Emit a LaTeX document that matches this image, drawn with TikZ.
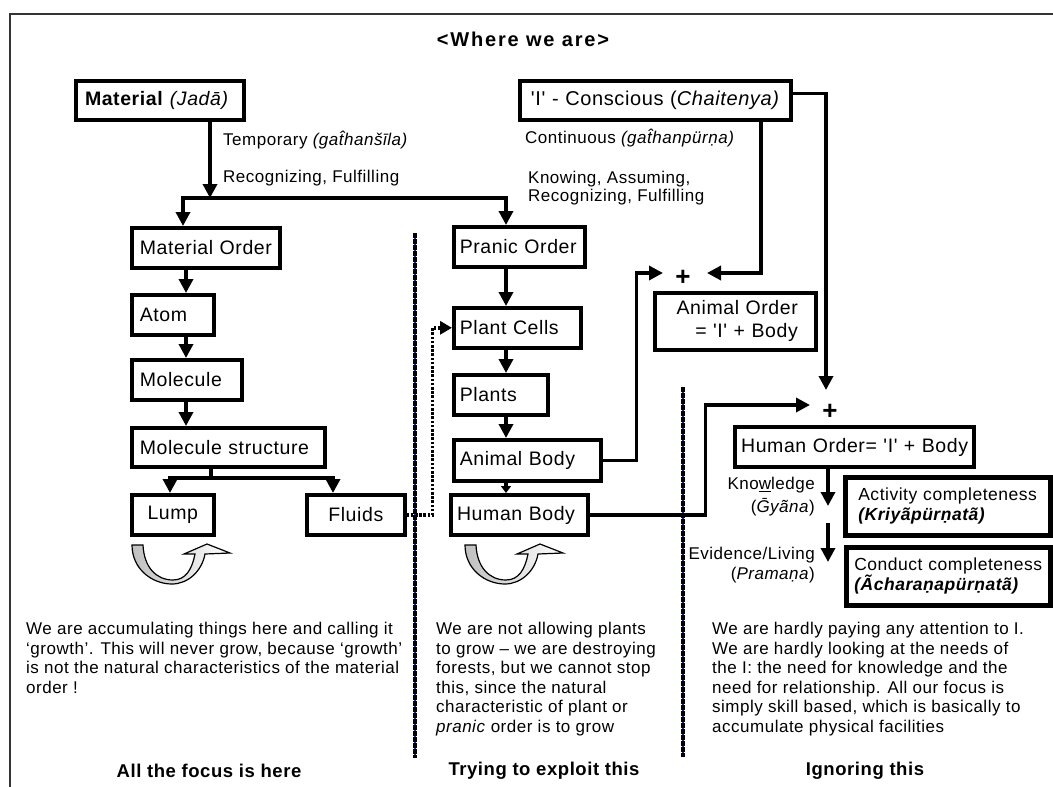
\documentclass[tikz,border=0pt]{standalone}
\usepackage{fontspec}
\setmainfont{Liberation Sans}[Ligatures=TeXOff,LetterSpace=3]
\newfontfamily\titlefont{Liberation Sans}[Ligatures=TeXOff,LetterSpace=9]
\usetikzlibrary{arrows.meta}
\newcommand\fs[2]{\fontsize{#1}{#2}\selectfont}
\begin{document}
\begin{tikzpicture}[x=1pt,y=-1pt,
  box/.style={draw, line width=3.6pt, anchor=north west, inner xsep=8pt, inner ysep=0pt, font=\fs{19.5}{23}, align=left},
  thk/.style={line width=3.4pt, line join=miter},
  arr/.style={thk, -{Triangle[width=14pt,length=14pt]}},
  sarr/.style={thk, -{Triangle[width=10pt,length=7pt]}},
  dot/.style={line width=3.4pt, dash pattern=on 2.6pt off 1.6pt, -{Triangle[width=13pt,length=12pt]}},
  lbl/.style={font=\fs{17}{18}, inner sep=0pt, align=left},
  para/.style={font=\fs{17}{19.6}, inner sep=0pt, anchor=north west, align=left},
  head/.style={font=\bfseries\fs{18.5}{22}, inner sep=0pt},
  plus/.style={font=\bfseries\fs{26}{28}, inner sep=1pt},
  divbase/.style={line width=1.5pt, draw={rgb,255:red,40;green,40;blue,120}},
  divider/.style={line width=4pt, dash pattern=on 4.5pt off 1.5pt},
  uturn/.pic={
    \draw[line width=1.2pt, left color=gray!50, right color=white]
      (0,0) .. controls (0,24) and (20,39) .. (40,39)
      .. controls (56,39) and (70,26) .. (73,9) -- (98,8) -- (75,-1) -- (52,9) -- (63,9)
      .. controls (60,24) and (54,35) .. (41,35)
      .. controls (24,35) and (12,22) .. (11,0) -- cycle;
  }
]
\useasboundingbox (0,0) rectangle (1053,787);
% frame
\draw[line width=2.4pt, black!80] (10,800) -- (10,14) -- (1070,14);
% title
\node[font=\titlefont\bfseries\fs{20}{22}] (title) at (523,39) {<Where we are>};

% top boxes
\node[box, line width=4pt, text width=150pt, minimum height=39pt, inner xsep=9pt] (mat) at (74,79) {\textbf{Material} \textit{(Jadā)}};
\node[box, text width=261pt, minimum height=39pt, font=\fs{20}{23}, inner xsep=5pt, align=center] (con) at (518,79) {'I' - Conscious (\textit{Chaitenya)}};

% material column
\node[box, text width=132pt, minimum height=40pt] (mo) at (130,226) {Material Order};
\node[box, text width=66pt, minimum height=40pt] (atom) at (130,293) {Atom};
\node[box, text width=94pt, minimum height=40pt] (mol) at (130,358) {Molecule};
\node[box, text width=177pt, minimum height=39pt] (ms) at (130,426) {Molecule structure};
\node[box, text width=66pt, minimum height=40pt, align=center] (lump) at (130,493) {Lump};
\node[box, text width=82pt, minimum height=40pt, align=center] (fluids) at (305,493) {Fluids};

% pranic column
\node[box, text width=119pt, minimum height=40pt, inner xsep=6pt] (po) at (452,225) {Pranic Order};
\node[box, text width=115pt, minimum height=40pt, inner xsep=6pt] (pc) at (452,306) {Plant Cells};
\node[box, text width=82pt, minimum height=40pt, inner xsep=6pt] (plants) at (452,373) {Plants};
\node[box, text width=135pt, minimum height=41pt, inner xsep=6pt] (ab) at (452,438) {Animal Body};
\node[box, line width=4.2pt, text width=125pt, minimum height=40pt, inner xsep=6pt] (hb) at (449,493) {Human Body};

% right side
\node[box, text width=125pt, minimum height=57pt, inner xsep=18pt, align=right] (ao) at (653,291) {Animal Order\\= 'I' + Body};
\node[box, line width=4.2pt, text width=233pt, minimum height=40pt, inner xsep=3pt, align=center, font=\fs{19.5}{23}] (ho) at (733,425) {Human Order= 'I' + Body};
\node[box, line width=4.6pt, text width=179pt, minimum height=58pt, inner xsep=13pt, font=\fs{17.5}{20}] (act) at (843,475) {Activity completeness\\\textbf{\textit{(Kriyãpürṇatã)}}};
\node[box, line width=4.6pt, text width=188pt, minimum height=58pt, inner xsep=8pt, font=\fs{17.5}{20}] (cond) at (844,545) {Conduct completeness\\\textbf{\textit{(Ãcharaṇapürṇatã)}}};

% labels
\node[lbl, anchor=west] (tmp) at (223,140) {Temporary \textit{(ga\^{t}hanšīla)}};
\node[lbl, anchor=west] (rec1) at (223,178) {Recognizing, Fulfilling};
\node[lbl, anchor=west] (cnt) at (525,138) {Continuous \textit{(ga\^{t}hanpürṇa)}};
\node[lbl, anchor=west, font=\fs{17}{17.5}] (kno) at (528,188) {Knowing, Assuming,\\Recognizing, Fulfilling};
\node[lbl, anchor=east] (kl) at (815,485) {Kno\underline{w}ledge};
\node[lbl, anchor=east] (gy) at (815,507) {(\textit{\={G}yãna})};
\node[lbl, anchor=east] (ev) at (815,555) {Evidence/Living};
\node[lbl, anchor=east] (pr) at (815,575) {(\textit{Pramaṇa})};
\node[plus] (plA) at (683,278) {+};
\node[plus] (plB) at (830,412) {+};

% coordinates
\coordinate (j1) at (210,198);
\coordinate (j1L) at (183,198);
\coordinate (j1R) at (506,198);
\coordinate (xA) at (186,0);
\coordinate (j2) at (211,478);
\coordinate (j2L) at (170,478);
\coordinate (j2R) at (333,478);
\coordinate (xP) at (506,0);
\coordinate (t1) at (663,273);
\coordinate (t2) at (707,273);
\coordinate (t3) at (826,390);
\coordinate (t4) at (810,405);
\coordinate (k1) at (828,506);
\coordinate (k2) at (828,523);
\coordinate (k3) at (828,562);

% connectors
\draw[arr] (mat.south -| j1) -- (j1);
\draw[arr] (j1) -| (j1L |- mo.north);
\draw[arr] (j1) -| (j1R |- po.north);
\draw[arr] (mo.south -| xA) -- (atom.north -| xA);
\draw[arr] (atom.south -| xA) -- (mol.north -| xA);
\draw[arr] (mol.south -| xA) -- (ms.north -| xA);
\draw[thk] (ms.south -| j2) -- (j2);
\draw[arr] (j2) -| (j2L |- lump.north);
\draw[arr] (j2) -| (j2R |- fluids.north);
\draw[arr] (po.south -| xP) -- (pc.north -| xP);
\draw[arr] (pc.south -| xP) -- (plants.north -| xP);
\draw[arr] (plants.south -| xP) -- (ab.north -| xP);
\draw[sarr] (ab.south -| xP) -- (hb.north -| xP);
\draw[dot] (fluids.east) -- ++(26,0) |- (pc.west);
\draw[arr] (ab.east) -- ++(34,0) |- (t1);
\draw[arr] ([xshift=243pt]con.south west) |- (t2);
\draw[arr] ([yshift=7pt]con.east) -| (t3);
\draw[arr] (hb.east) -- ++(115,0) |- (t4);
\draw[arr] (ho.south -| k1) -- (k1);
\draw[arr] (k2) -- (k3);

% dividers
\draw[divbase] (415,233) -- (415,758);
\draw[divider] (415,233) -- (415,758);
\draw[divbase] (683,387) -- (683,757);
\draw[divider] (683,387) -- (683,757);

% u-turn arrows
\pic at (132,545) {uturn};
\pic at (465,545) {uturn};

% paragraphs
\node[para] (p1) at (26,622) {We are accumulating things here and calling it\\‘growth’. This will never grow, because ‘growth’\\is not the natural characteristics of the material\\order !};
\node[para] (p2) at (436,622) {We are not allowing plants\\to grow – we are destroying\\forests, but we cannot stop\\this, since the natural\\characteristic of plant or\\\textit{pranic} order is to grow};
\node[para] (p3) at (712,622) {We are hardly paying any attention to I.\\We are hardly looking at the needs of\\the I: the need for knowledge and the\\need for relationship. All our focus is\\simply skill based, which is basically to\\accumulate physical facilities};

% headings
\node[head] (h1) at (209,771) {All the focus is here};
\node[head] (h2) at (544,771) {Trying to exploit this};
\node[head] (h3) at (865,771) {Ignoring this};
\end{tikzpicture}
\end{document}
